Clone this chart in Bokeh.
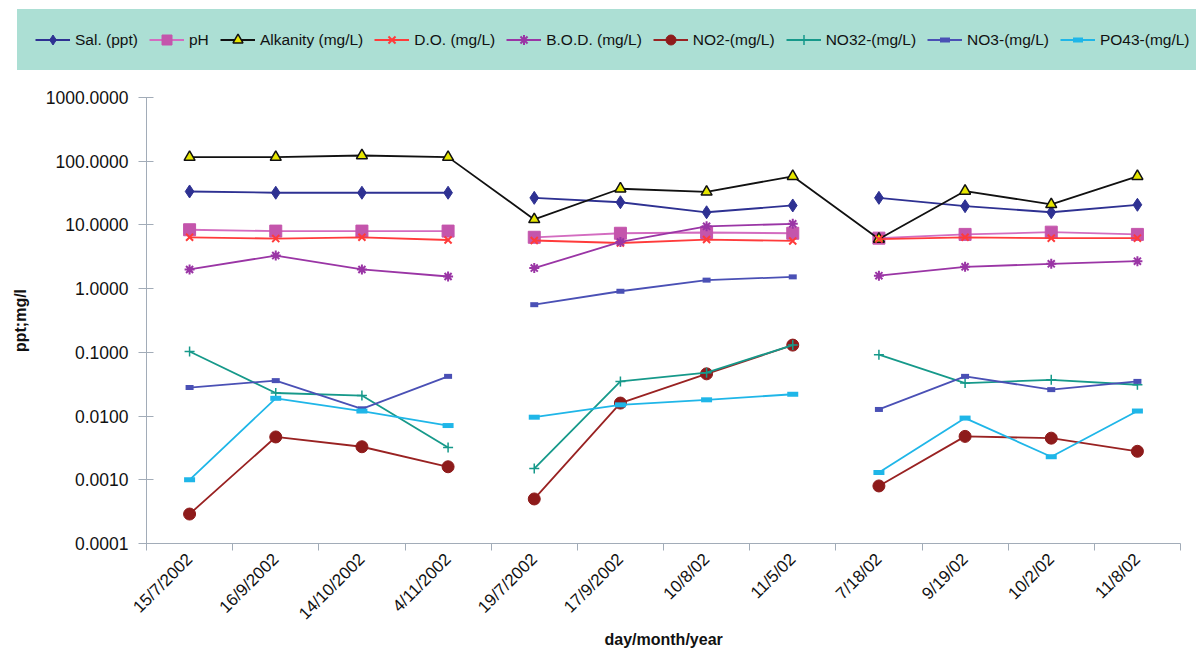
import math
from bokeh.plotting import figure
from bokeh.models import Range1d, FixedTicker, PrintfTickFormatter, Legend, LegendItem, Title
from bokeh.embed import file_html
from bokeh.resources import INLINE

dates = ["15/7/2002", "16/9/2002", "14/10/2002", "4/11/2002",
         "19/7/2002", "17/9/2002", "10/8/02", "11/5/02",
         "7/18/02", "9/19/02", "10/2/02", "11/8/02"]

sal = [33.5, 32.0, 32.0, 32.0, 26.6, 22.7, 15.8, 20.2, 26.6, 19.7, 15.8, 20.7]
ph = [8.4, 8.0, 8.0, 8.0, 6.4, 7.4, 7.6, 7.4, 6.2, 7.1, 7.7, 7.1]
alkanity = [116, 116, 123, 116, 12.2, 37, 33, 58, 6.0, 34, 21, 58]
do = [6.4, 6.1, 6.4, 5.8, 5.7, 5.2, 5.9, 5.6, 6.0, 6.4, 6.2, 6.2]
bod = [2.0, 3.3, 2.0, 1.55, 2.1, 5.4, 9.5, 10.4, 1.6, 2.2, 2.45, 2.7]
no2 = [0.00029, 0.0047, 0.0033, 0.0016, 0.0005, 0.016, 0.046, 0.13, 0.0008, 0.0048, 0.0045, 0.0028]
no32 = [0.103, 0.023, 0.021, 0.0032, 0.0015, 0.035, 0.048, 0.13, 0.092, 0.033, 0.037, 0.031]
no3 = [0.028, 0.036, 0.013, 0.042, 0.56, 0.91, 1.36, 1.53, 0.0127, 0.042, 0.026, 0.035]
po43 = [0.001, 0.019, 0.012, 0.0071, 0.0096, 0.015, 0.018, 0.022, 0.0013, 0.0093, 0.0023, 0.012]

y_ticks = [0.0001, 0.001, 0.01, 0.1, 1, 10, 100, 1000]

groups = [(0, 4), (4, 8), (8, 12)]

series = [
    dict(label="Sal. (ppt)", y=sal, line="#2e3192", marker="diamond", size=13,
         fill="#2e3192", mline="#2e3192", mlw=1, joined=False),
    dict(label="pH", y=ph, line="#d36cc0", marker="square", size=12,
         fill="#c455ac", mline="#c455ac", mlw=1, joined=False),
    dict(label="Alkanity (mg/L)", y=alkanity, line="#111111", marker="triangle", size=11,
         fill="#e6e600", mline="#111111", mlw=1.5, joined=True),
    dict(label="D.O. (mg/L)", y=do, line="#ff3b3b", marker="x", size=10,
         fill="#ff3b3b", mline="#ff3b3b", mlw=2, joined=False),
    dict(label="B.O.D. (mg/L)", y=bod, line="#9a35a5", marker="asterisk", size=10,
         fill="#9a35a5", mline="#9a35a5", mlw=2, joined=False),
    dict(label="NO2-(mg/L)", y=no2, line="#992222", marker="circle", size=12,
         fill="#8e1b1b", mline="#8e1b1b", mlw=1, joined=False),
    dict(label="NO32-(mg/L)", y=no32, line="#16998a", marker="cross", size=10,
         fill="#16998a", mline="#16998a", mlw=1.5, joined=False),
    dict(label="NO3-(mg/L)", y=no3, line="#4a50b5", marker="dash", size=8,
         fill="#4a50b5", mline="#4a50b5", mlw=5, joined=False),
    dict(label="PO43-(mg/L)", y=po43, line="#1fb6e8", marker="dash", size=11,
         fill="#1fb6e8", mline="#1fb6e8", mlw=5, joined=False),
]

x = list(range(1, len(dates) + 1))

FONT = "Liberation Sans"
AXIS_COLOR = "#a2acb8"
LEGEND_BG = "#acdfd4"

# layout in pixels: one big frame, axes pinned to the data area inside it
FRAME_L, FRAME_R, FRAME_T, FRAME_B = 8, 1196, 0, 628
AX_L, AX_R, AX_T, AX_B = 146, 1180, 97, 543
px_per_cat = (AX_R - AX_L) / len(dates)
x_start = 0.5 - (AX_L - FRAME_L) / px_per_cat
x_end = len(dates) + 0.5 + (FRAME_R - AX_R) / px_per_cat
lo, hi = math.log10(y_ticks[0]), math.log10(y_ticks[-1])
px_per_dec = (AX_B - AX_T) / (hi - lo)
y_end = 10 ** (hi + (AX_T - FRAME_T) / px_per_dec)
y_start = 10 ** (lo - (FRAME_B - AX_B) / px_per_dec)

p = figure(frame_width=FRAME_R - FRAME_L, frame_height=FRAME_B - FRAME_T,
           x_range=Range1d(x_start, x_end), y_range=Range1d(y_start, y_end),
           y_axis_type="log", output_backend="svg", toolbar_location=None,
           min_border_left=FRAME_L, min_border_right=0, min_border_top=FRAME_T,
           min_border_bottom=22)
p.outline_line_color = None
p.grid.visible = False
p.background_fill_color = "white"
p.border_fill_color = "white"

items = []
for s in series:
    segs = [(0, len(x))] if s["joined"] else groups
    lines = []
    for a, b in segs:
        lines.append(p.line(x[a:b], s["y"][a:b], line_color=s["line"], line_width=1.8))
    sr = p.scatter(x, s["y"], marker=s["marker"], size=s["size"], fill_color=s["fill"],
                   line_color=s["mline"], line_width=s["mlw"])
    items.append(LegendItem(label=s["label"], renderers=[lines[0], sr]))

# x axis, pinned at the bottom of the data area
p.xaxis.fixed_location = y_ticks[0]
p.xaxis.bounds = (0.5, len(dates) + 0.5)
p.xaxis.ticker = FixedTicker(ticks=x, minor_ticks=[i + 0.5 for i in range(0, len(dates) + 1)])
p.xaxis.major_label_overrides = {i: d for i, d in zip(x, dates)}
p.xaxis.major_tick_line_color = None
p.xaxis.major_tick_out = 6
p.xaxis.major_tick_in = 0
p.xaxis.minor_tick_out = 7
p.xaxis.minor_tick_in = 0
p.xaxis.minor_tick_line_color = AXIS_COLOR
p.xaxis.axis_line_color = AXIS_COLOR
p.xaxis.major_label_orientation = math.pi / 4
p.xaxis.major_label_standoff = 6
p.xaxis.major_label_text_font = FONT
p.xaxis.major_label_text_font_size = "17px"
p.xaxis.major_label_text_color = "#111111"

# y axis, pinned at the left edge of the data area
p.yaxis.fixed_location = 0.5
p.yaxis.bounds = (y_ticks[0], y_ticks[-1])
p.yaxis.ticker = FixedTicker(ticks=y_ticks)
p.yaxis.formatter = PrintfTickFormatter(format="%.4f")
p.yaxis.major_tick_in = 7
p.yaxis.major_tick_out = 8
p.yaxis.minor_tick_line_color = None
p.yaxis.major_tick_line_color = AXIS_COLOR
p.yaxis.axis_line_color = AXIS_COLOR
p.yaxis.major_label_standoff = 10
p.yaxis.major_label_text_font = FONT
p.yaxis.major_label_text_font_size = "17.5px"
p.yaxis.major_label_text_color = "#111111"
p.yaxis.axis_label = "ppt;mg/l"
p.yaxis.axis_label_text_font = FONT
p.yaxis.axis_label_text_font_size = "16px"
p.yaxis.axis_label_text_font_style = "bold"
p.yaxis.axis_label_text_color = "#111111"
p.yaxis.axis_label_standoff = 14

# x axis title, centred under the data area
x_title = "day/month/year"
title_w = 118
p.add_layout(Title(text=x_title, align="left", offset=(AX_L + AX_R) / 2 - title_w / 2 - FRAME_L,
                   text_font=FONT, text_font_size="16px", text_font_style="bold",
                   text_color="#111111", standoff=0), "below")

legend = Legend(items=items, orientation="horizontal", location="top_left",
                margin=9, padding=17, spacing=11, glyph_width=35, glyph_height=25,
                label_standoff=5, label_text_font=FONT, label_text_font_size="15.5px",
                label_text_color="#111111", background_fill_color=LEGEND_BG,
                background_fill_alpha=1.0, border_line_color=LEGEND_BG, border_line_width=1)
p.add_layout(legend, "center")

open("out.html", "w").write(file_html(p, INLINE))
